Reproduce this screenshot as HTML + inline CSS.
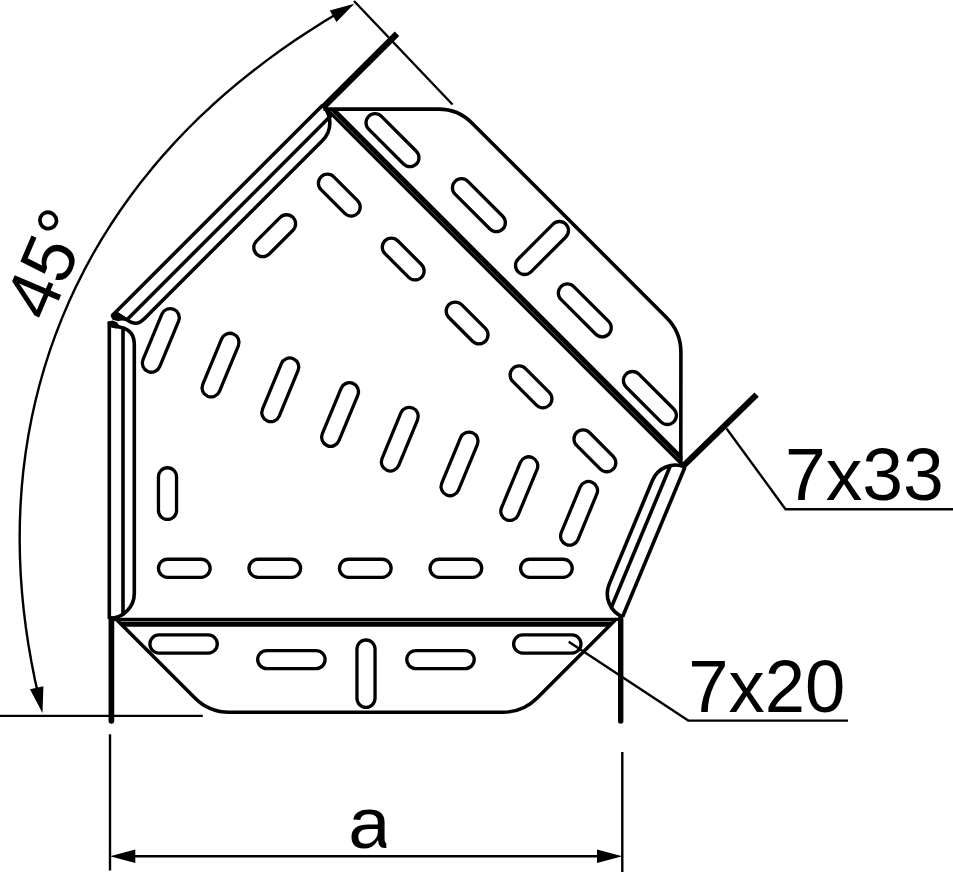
<!DOCTYPE html>
<html><head><meta charset="utf-8"><title>45 degree bend</title>
<style>
html,body{margin:0;padding:0;background:#fff;}
body{width:953px;height:875px;overflow:hidden;font-family:"Liberation Sans",sans-serif;}
svg{display:block}
svg text{font-family:"Liberation Sans",sans-serif;fill:#000;stroke:none}
</style></head><body>
<svg width="953" height="875" viewBox="0 0 953 875" fill="none" stroke="#000">
<rect x="-25.85" y="-9.05" width="51.70" height="18.10" rx="9.05" stroke-width="3.3" transform="translate(184.30 568.30) rotate(0)"/>
<rect x="-25.85" y="-9.05" width="51.70" height="18.10" rx="9.05" stroke-width="3.3" transform="translate(274.80 568.30) rotate(0)"/>
<rect x="-25.85" y="-9.05" width="51.70" height="18.10" rx="9.05" stroke-width="3.3" transform="translate(365.30 568.30) rotate(0)"/>
<rect x="-25.85" y="-9.05" width="51.70" height="18.10" rx="9.05" stroke-width="3.3" transform="translate(455.90 568.30) rotate(0)"/>
<rect x="-25.85" y="-9.05" width="51.70" height="18.10" rx="9.05" stroke-width="3.3" transform="translate(546.40 568.30) rotate(0)"/>
<rect x="-25.85" y="-9.05" width="51.70" height="18.10" rx="9.05" stroke-width="3.3" transform="translate(167.50 493.60) rotate(90)"/>
<rect x="-33.70" y="-9.05" width="67.40" height="18.10" rx="9.05" stroke-width="3.3" transform="translate(160.80 340.40) rotate(-67.5)"/>
<rect x="-33.70" y="-9.05" width="67.40" height="18.10" rx="9.05" stroke-width="3.3" transform="translate(220.55 365.10) rotate(-67.5)"/>
<rect x="-33.70" y="-9.05" width="67.40" height="18.10" rx="9.05" stroke-width="3.3" transform="translate(280.30 389.80) rotate(-67.5)"/>
<rect x="-33.70" y="-9.05" width="67.40" height="18.10" rx="9.05" stroke-width="3.3" transform="translate(340.05 414.50) rotate(-67.5)"/>
<rect x="-33.70" y="-9.05" width="67.40" height="18.10" rx="9.05" stroke-width="3.3" transform="translate(399.80 439.20) rotate(-67.5)"/>
<rect x="-33.70" y="-9.05" width="67.40" height="18.10" rx="9.05" stroke-width="3.3" transform="translate(459.55 463.90) rotate(-67.5)"/>
<rect x="-33.70" y="-9.05" width="67.40" height="18.10" rx="9.05" stroke-width="3.3" transform="translate(519.30 488.60) rotate(-67.5)"/>
<rect x="-33.70" y="-9.05" width="67.40" height="18.10" rx="9.05" stroke-width="3.3" transform="translate(579.05 513.30) rotate(-67.5)"/>
<rect x="-25.85" y="-9.05" width="51.70" height="18.10" rx="9.05" stroke-width="3.3" transform="translate(339.30 195.10) rotate(45)"/>
<rect x="-25.85" y="-9.05" width="51.70" height="18.10" rx="9.05" stroke-width="3.3" transform="translate(403.20 259.03) rotate(45)"/>
<rect x="-25.85" y="-9.05" width="51.70" height="18.10" rx="9.05" stroke-width="3.3" transform="translate(467.10 322.96) rotate(45)"/>
<rect x="-25.85" y="-9.05" width="51.70" height="18.10" rx="9.05" stroke-width="3.3" transform="translate(531.00 386.89) rotate(45)"/>
<rect x="-25.85" y="-9.05" width="51.70" height="18.10" rx="9.05" stroke-width="3.3" transform="translate(594.90 450.82) rotate(45)"/>
<rect x="-25.85" y="-9.05" width="51.70" height="18.10" rx="9.05" stroke-width="3.3" transform="translate(274.70 235.70) rotate(-45)"/>
<rect x="-33.70" y="-9.05" width="67.40" height="18.10" rx="9.05" stroke-width="3.3" transform="translate(183.60 644.00) rotate(0)"/>
<rect x="-33.70" y="-9.05" width="67.40" height="18.10" rx="9.05" stroke-width="3.3" transform="translate(291.40 659.60) rotate(0)"/>
<rect x="-33.70" y="-9.05" width="67.40" height="18.10" rx="9.05" stroke-width="3.3" transform="translate(366.00 673.70) rotate(90)"/>
<rect x="-33.70" y="-9.05" width="67.40" height="18.10" rx="9.05" stroke-width="3.3" transform="translate(440.50 659.60) rotate(0)"/>
<rect x="-33.70" y="-9.05" width="67.40" height="18.10" rx="9.05" stroke-width="3.3" transform="translate(547.30 644.00) rotate(0)"/>
<rect x="-33.70" y="-9.05" width="67.40" height="18.10" rx="9.05" stroke-width="3.3" transform="translate(392.50 140.20) rotate(45)"/>
<rect x="-33.70" y="-9.05" width="67.40" height="18.10" rx="9.05" stroke-width="3.3" transform="translate(478.90 205.20) rotate(45)"/>
<rect x="-33.70" y="-9.05" width="67.40" height="18.10" rx="9.05" stroke-width="3.3" transform="translate(542.00 248.00) rotate(-45)"/>
<rect x="-33.70" y="-9.05" width="67.40" height="18.10" rx="9.05" stroke-width="3.3" transform="translate(584.80 310.40) rotate(45)"/>
<rect x="-33.70" y="-9.05" width="67.40" height="18.10" rx="9.05" stroke-width="3.3" transform="translate(649.90 398.00) rotate(45)"/>
<line x1="109.30" y1="321.50" x2="109.30" y2="619.00" stroke-width="3.6" stroke-linecap="butt"/>
<line x1="123.00" y1="328.50" x2="123.00" y2="615.50" stroke-width="3.6" stroke-linecap="butt"/>
<path d="M112,325.6 L121.5,327.6 C130,329.5 134.3,336 134.3,345 L134.3,593.5 A25,25 0 0 1 109.4,618.4" stroke-width="3.6" />
<line x1="112.00" y1="315.80" x2="322.60" y2="105.20" stroke-width="3.6" stroke-linecap="butt"/>
<line x1="127.00" y1="319.70" x2="331.60" y2="115.10" stroke-width="3.6" stroke-linecap="butt"/>
<path d="M117,313.6 L127,320 C130.5,322.2 133,323.6 136.5,323.2 C141.5,322.7 145.5,317.5 150,313 L322.5,140.5 A25,25 0 0 0 322.8,105.4" stroke-width="3.6" />
<path d="M112,313.3 L117.3,312.6 L127.3,318.6 L126.4,321 L121.4,320.4 L118.3,321.3 L112.6,319.7 L110.5,316 Z" fill="#000" stroke="none"/>
<path d="M108,321.6 L112.6,320.4 L117,322.2 L119,325.2 L119,327.9 L115.7,328.5 L110.7,327.3 L107.7,324.6 Z" fill="#000" stroke="none"/>
<line x1="622.60" y1="616.80" x2="685.00" y2="467.00" stroke-width="3.6" stroke-linecap="butt"/>
<line x1="611.21" y1="607.72" x2="670.54" y2="465.31" stroke-width="3.6" stroke-linecap="butt"/>
<path d="M622.60,616.80 A25,25 0 0 1 609.23,584.15 L652.40,480.50 A25,25 0 0 1 685.00,467.00" stroke-width="3.6" />
<line x1="111.00" y1="619.35" x2="618.00" y2="619.35" stroke-width="3.3" stroke-linecap="butt"/>
<path d="M116.6,621.4 L615.2,621.4 L609.9,626.7 L121.9,626.7 Z" fill="#000" stroke="none"/>
<path d="M329.0,109.1 L336.0,109.1 L682.3,455.4 L682.3,462.4 Z" fill="#000" stroke="none"/>
<line x1="322.40" y1="104.90" x2="682.10" y2="464.60" stroke-width="3.3" stroke-linecap="butt"/>
<path d="M115.5,618.6 L194.9,698 A48.8,48.8 0 0 0 229.4,712.3 L502.7,712.3 A48.8,48.8 0 0 0 537.2,698 L616.5,618.7" stroke-width="3.6" />
<path d="M323.5,109.1 L438.7,109.1 A47,47 0 0 1 471.9,122.9 L666.4,317.4 A49,49 0 0 1 680.9,352.1 L680.8,464" stroke-width="3.6" />
<line x1="111.40" y1="619.00" x2="111.40" y2="720.80" stroke-width="5.7" stroke-linecap="round"/>
<line x1="620.70" y1="618.50" x2="620.70" y2="721.00" stroke-width="5.4" stroke-linecap="round"/>
<line x1="323.20" y1="107.20" x2="397.00" y2="33.70" stroke-width="6.3" stroke-linecap="butt"/>
<line x1="682.60" y1="466.60" x2="756.60" y2="394.60" stroke-width="6.2" stroke-linecap="butt"/>
<line x1="0.00" y1="715.90" x2="202.80" y2="715.90" stroke-width="2.4" stroke-linecap="butt"/>
<line x1="110.00" y1="734.30" x2="110.00" y2="870.50" stroke-width="2.4" stroke-linecap="butt"/>
<line x1="622.30" y1="752.00" x2="622.30" y2="872.00" stroke-width="2.4" stroke-linecap="butt"/>
<line x1="120.00" y1="856.30" x2="612.00" y2="856.30" stroke-width="2.4" stroke-linecap="butt"/>
<path d="M110,856.3 L135.3,849.6 L135.3,863 Z" fill="#000" stroke="none"/>
<path d="M622.3,856.3 L597,849.6 L597,863 Z" fill="#000" stroke="none"/>
<line x1="354.00" y1="1.00" x2="452.50" y2="104.50" stroke-width="2.4" stroke-linecap="butt"/>
<line x1="726.50" y1="428.50" x2="785.50" y2="509.20" stroke-width="2.4" stroke-linecap="butt"/>
<line x1="784.80" y1="509.20" x2="953.00" y2="509.20" stroke-width="2.4" stroke-linecap="butt"/>
<line x1="568.70" y1="641.80" x2="688.20" y2="720.60" stroke-width="2.4" stroke-linecap="butt"/>
<line x1="687.30" y1="720.60" x2="848.00" y2="720.60" stroke-width="2.4" stroke-linecap="butt"/>
<path d="M38.56,696.00 L34.78,678.90 L31.40,661.73 L28.41,644.49 L25.83,627.20 L23.69,609.85 L21.99,592.46 L20.74,575.03 L19.96,557.56 L19.66,540.08 L19.84,522.59 L20.52,505.11 L21.70,487.65 L23.40,470.23 L25.61,452.86 L28.34,435.56 L31.60,418.35 L35.38,401.24 L39.68,384.25 L44.51,367.40 L49.86,350.71 L55.72,334.19 L62.10,317.86 L68.98,301.74 L76.36,285.84 L84.23,270.18 L92.58,254.77 L101.40,239.64 L110.67,224.78 L120.39,210.22 L130.53,195.96 L141.09,182.01 L152.05,168.39 L163.40,155.09 L175.11,142.13 L187.18,129.50 L199.59,117.21 L212.32,105.26 L225.36,93.66 L238.69,82.39 L252.30,71.45 L266.17,60.85 L280.29,50.56 L294.65,40.59 L309.23,30.92 L324.04,21.55 L339.05,12.46" stroke-width="2.4" stroke-linejoin="round"/>
<path d="M354.30,3.70 L336.52,21.93 L329.78,10.58 Z" fill="#000" stroke="none"/>
<path d="M42.50,713.10 L29.96,689.30 L43.41,686.22 Z" fill="#000" stroke="none"/>
<text x="784.9" y="500.1" font-size="73.3">7x33</text>
<text transform="translate(688.2 712.2) scale(0.9875 1)" font-size="73.3">7x20</text>
<clipPath id="ca"><rect x="340" y="800" width="46.3" height="52"/></clipPath>
<g clip-path="url(#ca)"><text transform="translate(348.2 847.9) scale(1.037 0.977)" font-size="73.3">a</text></g>
<text transform="translate(48.9 323.6) rotate(-67) scale(0.985 1)" font-size="73.3">45°</text>
</svg>
</body></html>
